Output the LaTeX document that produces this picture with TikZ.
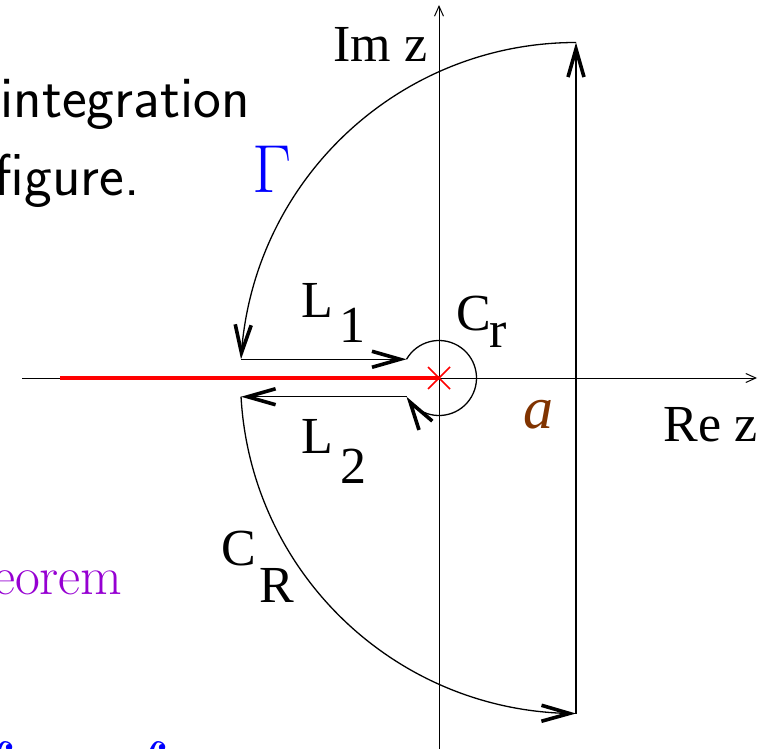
\RequirePackage{fix-cm}
\documentclass[tikz,border=0pt]{standalone}
\usepackage{fontspec}
\newfontfamily\timesfont{Liberation Serif}
\usepackage{xcolor}
\usepackage{tikz}
\usetikzlibrary{arrows.meta,calc,bending}

\definecolor{gammablue}{RGB}{0,0,255}
\definecolor{thmpurple}{RGB}{150,0,210}
\definecolor{abrown}{RGB}{128,51,0}

\begin{document}
\begin{tikzpicture}[
    x=0.5pt, y=0.5pt,
    axis/.style={line width=0.5pt, -{Straight Barb[length=5pt, width=4.5pt]}},
    contour/.style={line width=0.65pt, -{Straight Barb[length=14pt, width=8pt, line width=1.8pt]}},
    lbl/.style={inner sep=0pt, anchor=base west, font=\timesfont\fontsize{26}{26}\selectfont},
    slide/.style={inner sep=0pt, anchor=base east, font=\sffamily\fontsize{29.5}{29.5}\selectfont},
    intsign/.style={inner sep=0pt, anchor=north east, text=gammablue}
]
    \useasboundingbox (0,0) rectangle (771,-749);

    % Slide text behind the figure
    \node[slide] (txt1) at (250,-118) {integration};
    \node[slide] (txt2) at (140,-195) {figure.};
    \node[inner sep=0pt, anchor=base east, text=thmpurple, font=\fontsize{27}{27}\selectfont] (thm) at (123,-594) {eorem};
    \node[intsign] (int1) at (17,-741) {\scalebox{3.3}{$\displaystyle\int$}};
    \node[intsign] (int2) at (170,-741) {\scalebox{3.3}{$\displaystyle\int$}};
    \node[inner sep=0pt, anchor=base west, text=gammablue, font=\fontsize{34}{34}\selectfont] (gam) at (252,-192) {$\Gamma$};

    % Axes
    \coordinate (O) at (439,-378);
    \coordinate (A) at (576,-378);
    \coordinate (xs) at (22,-378);
    \coordinate (xe) at (757,-378);
    \coordinate (ys) at (439,-752);
    \coordinate (ye) at (439,-5);
    \draw[axis] (xs) -- (xe);
    \draw[axis] (ys) -- (ye);

    % Branch cut and pole
    \coordinate (cut) at (60,-378);
    \draw[red, line width=2pt] (cut) -- (O);
    \draw[red, line width=0.8pt] ($(O)+(-11,-11)$) -- ($(O)+(11,11)$) ($(O)+(-11,11)$) -- ($(O)+(11,-11)$);

    % Contour
    \coordinate (top) at ($(A)+(90:335.5)$);
    \coordinate (bot) at ($(A)+(270:335.5)$);
    \coordinate (L1s) at ($(A)+(176.8:335.5)$);
    \coordinate (L2e) at ($(A)+(183.2:335.5)$);
    \coordinate (L1e) at ($(O)+(150:37.5)$);
    \coordinate (L2s) at ($(O)+(210:37.5)$);
    \draw[contour] (bot) -- (top);
    \draw[contour] (top) arc[start angle=90, end angle=176.8, radius=335.5];
    \draw[contour] (L1s) -- (L1s -| L1e);
    \draw[contour] (L1e) arc[start angle=150, end angle=-150, radius=37.5];
    \draw[contour] (L2s) -- (L2s -| L2e);
    \draw[contour] (L2e) arc[start angle=183.2, end angle=270, radius=335.5];

    % Labels
    \node[lbl] (imz) at (333,-62) {Im z};
    \node[lbl] (rez) at (663,-441) {Re z};
    \node[lbl] (l1) at (301,-317) {L\hspace{3pt}\raisebox{-12.5pt}{1}};
    \node[lbl] (l2) at (301,-453) {L\hspace{3.5pt}\raisebox{-15pt}{2}};
    \node[lbl] (cr) at (456,-330) {C\hspace{-1pt}\raisebox{-8.5pt}{r}};
    \node[lbl] (cR) at (221,-565) {C\hspace{1.5pt}\raisebox{-18.5pt}{R}};
    \node[lbl, font=\timesfont\itshape\fontsize{30}{30}\selectfont, text=abrown] (apt) at (523,-428) {a};
\end{tikzpicture}
\end{document}
